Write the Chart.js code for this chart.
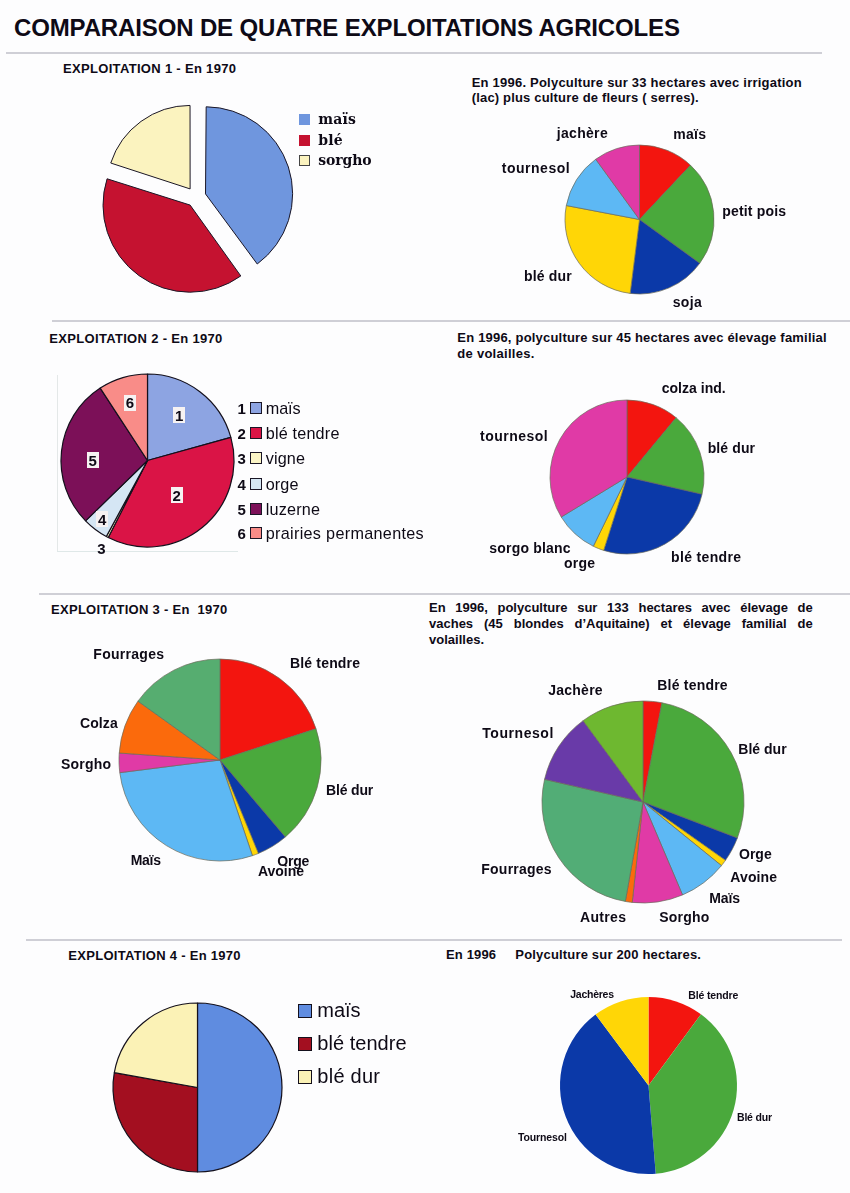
<!DOCTYPE html>
<html lang="fr">
<head>
<meta charset="utf-8">
<title>Comparaison de quatre exploitations agricoles</title>
<script src="https://cdn.jsdelivr.net/npm/chart.js@4/dist/chart.umd.min.js"></script>
<style>
	html, body { margin: 0; padding: 0; background: #fdfdfe; }
	#page { position: relative; width: 850px; height: 1193px; overflow: hidden; font-family: "Liberation Sans", Arial, sans-serif; color: #0e0a16; }
	#page div, #page canvas { position: absolute; }
	.txt { white-space: pre; line-height: 1; }
	.b { font-weight: bold; }
</style>
</head>
<body>
<div id="page"></div>
<script>
// categories and values (percent of the pie)
const labels1a = ['maïs', 'blé', 'sorgho'];
const values1a = [40, 40, 20];
const labels1b = ['maïs', 'petit pois', 'soja', 'blé dur', 'tournesol', 'jachère'];
const values1b = [12, 23, 17, 26, 12, 10];
const labels2a = ['maïs', 'blé tendre', 'vigne', 'orge', 'luzerne', 'prairies permanentes'];
const values2a = [20.7, 36.8, 0.4, 4.8, 28.1, 9.2];
const labels2b = ['colza ind.', 'blé dur', 'blé tendre', 'orge', 'sorgo blanc', 'tournesol'];
const values2b = [11, 17.6, 26.3, 2.3, 9.1, 33.7];
const labels3a = ['Blé tendre', 'Blé dur', 'Orge', 'Avoine', 'Maïs', 'Sorgho', 'Colza', 'Fourrages'];
const values3a = [20, 18.8, 5, 1, 28.2, 3.1, 8.8, 15.1];
const labels3b = ['Blé tendre', 'Blé dur', 'Orge', 'Avoine', 'Maïs', 'Sorgho', 'Autres', 'Fourrages', 'Tournesol', 'Jachère'];
const values3b = [3, 27.8, 4, 1.05, 7.75, 8.1, 1.1, 25.8, 11.3, 10.1];
const labels4a = ['maïs', 'blé tendre', 'blé dur'];
const values4a = [50, 27.8, 22.2];
const labels4b = ['Blé tendre', 'Blé dur', 'Tournesol', 'Jachères'];
const values4b = [10.1, 38.6, 41.1, 10.2];

// colours
const red = '#f3150f', green = '#4aa93c', blue = '#0b39a8', yellow = '#ffd606', sky = '#5db8f4', pink = '#e03aa6';
const colors1a = ['#6f96de', '#c51230', '#fbf3bf'];
const colors1b = [red, green, blue, yellow, sky, pink];
const colors2a = ['#8da4e2', '#da1446', '#fbf5c6', '#d5e6f4', '#7c1058', '#f98c88'];
const colors2b = [red, green, blue, yellow, sky, pink];
const colors3a = [red, green, blue, yellow, sky, pink, '#fb6a0c', '#56ad70'];
const colors3b = [red, green, blue, yellow, sky, pink, '#fb6a0c', '#52ad76', '#693aa8', '#6eb830'];
const colors4a = ['#5f8ce0', '#a30f20', '#fbf2b6'];
const colors4b = [red, green, blue, yellow];

const page = document.getElementById('page');

function addText(str, x, yc, size, width, bold, family, justify) {
	const el = document.createElement('div');
	el.className = 'txt' + (bold ? ' b' : '');
	el.textContent = str;
	el.style.left = x + 'px';
	el.style.top = (yc - size / 2) + 'px';
	el.style.fontSize = size + 'px';
	if (family) el.style.fontFamily = family;
	page.appendChild(el);
	// nudge the spacing so the text runs as wide as in the scan
	const m = el.getBoundingClientRect().width;
	if (justify) {
		el.style.wordSpacing = ((width - m) / (str.split(' ').length - 1)) + 'px';
	} else if (width && str.length > 1) {
		el.style.letterSpacing = ((width - m) / (str.length - 1)) + 'px';
	}
	return el;
}

function addBox(x, y, w, h, bg, border) {
	const el = document.createElement('div');
	el.style.left = x + 'px';
	el.style.top = y + 'px';
	el.style.width = w + 'px';
	el.style.height = h + 'px';
	el.style.background = bg;
	if (border) { el.style.boxSizing = 'border-box'; el.style.border = border; }
	page.appendChild(el);
	return el;
}

function addPie(labels, values, colors, cx, cy, r, border, borderWidth, offset) {
	const half = r + 30;
	const canvas = document.createElement('canvas');
	canvas.width = half * 2;
	canvas.height = half * 2;
	canvas.style.left = (cx - half) + 'px';
	canvas.style.top = (cy - half) + 'px';
	page.appendChild(canvas);
	return new Chart(canvas.getContext('2d'), {
		type: 'pie',
		data: {
			labels: labels,
			datasets: [{
				data: values,
				backgroundColor: colors,
				borderColor: border,
				borderWidth: borderWidth,
				offset: offset || 0,
				radius: r
			}]
		},
		options: {
			responsive: false,
			animation: false,
			plugins: { legend: { display: false }, tooltip: { enabled: false } }
		}
	});
}

function addLabels(labels, spots, size) {
	for (let i = 0; i < labels.length; i++) {
		addText(labels[i], spots[i][0], spots[i][1], size, spots[i][2], true);
	}
}

// separators
const rule = '#cfcfd6';
addBox(6, 52, 816, 2, rule);
addBox(52, 320, 798, 2, rule);
addBox(39, 593, 811, 2, rule);
addBox(26, 939, 816, 2, rule);

// headings
addText('COMPARAISON DE QUATRE EXPLOITATIONS AGRICOLES', 14, 28, 24, 666, true);
addText('EXPLOITATION 1 - En 1970', 63, 68, 13, 173, true);
addText('EXPLOITATION 2 - En 1970', 49.3, 338.7, 13, 173, true);
addText('EXPLOITATION 3 - En  1970', 51, 609, 13, 176.3, true);
addText('EXPLOITATION 4 - En 1970', 68.3, 955, 13, 172.3, true);
addText('En 1996. Polyculture sur 33 hectares avec irrigation', 471.7, 82, 13, 330, true);
addText('(lac) plus culture de fleurs ( serres).', 471.7, 97.7, 13, 227, true);
addText('En 1996, polyculture sur 45 hectares avec élevage familial', 457.3, 337.7, 13, 369.3, true);
addText('de volailles.', 457.3, 353.3, 13, 77, true);
addText('En 1996, polyculture sur 133 hectares avec élevage de', 429, 607.7, 13, 383.7, true, null, true);
addText('vaches (45 blondes d’Aquitaine) et élevage familial de', 429, 623, 13, 383.7, true, null, true);
addText('volailles.', 429, 639.3, 13, 55, true);
addText('En 1996', 446, 954.3, 13, 50, true);
addText('Polyculture sur 200 hectares.', 515.3, 954.3, 13, 185.7, true);

// exploitation 1, the slice offset makes Chart.js draw it about 5px over r
addPie(labels1a, values1a, colors1a, 196, 197, 83, '#1a1626', 1, 40);
const legend1Y = [119.3, 140, 160.3];
const legend1W = [37.7, 24.3, 53.3];
for (let i = 0; i < labels1a.length; i++) {
	addBox(299, legend1Y[i] - 5.5, 11, 11, colors1a[i], i == 2 ? '1px solid #444' : '');
	addText(labels1a[i], 318.3, legend1Y[i], 14, legend1W[i], true, '"DejaVu Serif", serif');
}

addPie(labels1b, values1b, colors1b, 639.5, 219.5, 74.5, '#6a6a5a', 0.7);
addLabels(labels1b, [[673.3, 134, 32.7], [722.3, 210.7, 63.7], [672.7, 302.3, 29], [524, 275.7, 47.7], [501.7, 167.7, 68], [556.7, 132.7, 51]], 14);

// exploitation 2, with its faint chart frame
addBox(57, 375, 1, 176, '#e4e8e8');
addBox(57, 551, 181, 1, '#dfe8e8');
addPie(labels2a, values2a, colors2a, 147.3, 460.7, 86.5, '#14101c', 1.2);
const numberSpots = [[179.3, 415], [176.7, 495], null, [102.3, 519], [92.7, 460], [130, 402.7]];
const legend2Y = [408.3, 433.3, 458.3, 484, 509, 533.3];
const legend2W = [35, 73.7, 39.3, 32.7, 54.3, 158];
for (let i = 0; i < labels2a.length; i++) {
	const n = String(i + 1);
	if (numberSpots[i]) {
		addBox(numberSpots[i][0] - 6, numberSpots[i][1] - 8, 12, 16, '#f6f2f2');
		addText(n, numberSpots[i][0] - 4.2, numberSpots[i][1], 15, 0, true);
	} else {
		addText(n, 97.2, 548.3, 15, 0, true);
	}
	addText(n, 237.5, legend2Y[i], 15, 0, true);
	addBox(250, legend2Y[i] - 6, 12, 12, colors2a[i], '1.5px solid #1a1626');
	addText(labels2a[i], 265.7, legend2Y[i], 16.2, legend2W[i]);
}

addPie(labels2b, values2b, colors2b, 627.3, 476.7, 77, '#6a6a5a', 0.7);
addLabels(labels2b, [[661.7, 388.3, 64], [707.7, 448.3, 47.3], [671, 557.3, 70], [564, 563.3, 31], [489.3, 547.7, 81.3], [480, 436, 67.7]], 14);

// exploitation 3
addPie(labels3a, values3a, colors3a, 220.3, 760.3, 101, '#6a6a5a', 0.7);
addLabels(labels3a, [[290, 662.7, 70], [326, 790, 47.3], [277.3, 861, 32], [258, 870.7, 46], [130.7, 860, 30.3], [61, 763.7, 50], [80, 723.3, 37.7], [93.3, 654.3, 70.7]], 14);

addPie(labels3b, values3b, colors3b, 643.3, 802, 101, '#6a6a5a', 0.7);
addLabels(labels3b, [[657.3, 685, 70.3], [738.3, 748.7, 48.3], [739, 854, 32.7], [730.3, 876.7, 46.7], [709.3, 897.7, 30.7], [659.3, 917, 50], [580, 917, 46], [481.3, 869.3, 70.3], [482.3, 732.7, 71], [548.3, 690, 54.3]], 14);

// exploitation 4
addPie(labels4a, values4a, colors4a, 197.7, 1087.3, 84.5, '#14101c', 1.2);
const legend4Y = [1011, 1044, 1076.7];
const legend4W = [43.3, 89.3, 62.7];
for (let i = 0; i < labels4a.length; i++) {
	addBox(298.3, legend4Y[i] - 7, 14, 14, colors4a[i], '1.5px solid #14101c');
	addText(labels4a[i], 317.3, legend4Y[i] - 1, 20, legend4W[i]);
}

addPie(labels4b, values4b, colors4b, 648, 1085.5, 88.5, 'transparent', 0);
addLabels(labels4b, [[688.3, 995.7, 50], [737, 1117, 35], [518, 1137, 49], [570.3, 994.3, 43.7]], 10.5);
</script>
</body>
</html>
